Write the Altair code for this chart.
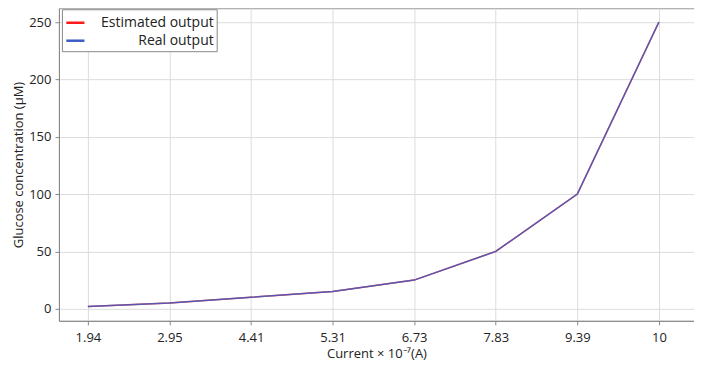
import altair as alt
import pandas as pd

current_labels = ["1.94", "2.95", "4.41", "5.31", "6.73", "7.83", "9.39", "10"]
estimated = [2, 5, 10, 15, 25, 50, 100, 250]
real = [2, 5, 10, 15, 25, 50, 100, 250]
series = ["Estimated output", "Real output"]

rows = []
for s, vals in zip(series, [estimated, real]):
    for i, (lab, v) in enumerate(zip(current_labels, vals)):
        rows.append({"idx": i, "label": lab, "value": v, "series": s, "order": series.index(s)})
df = pd.DataFrame(rows)

label_expr = "[" + ",".join(f"'{l}'" for l in current_labels) + "][datum.value]"

FONT = "Open Sans"

chart = alt.Chart(df).mark_line(strokeWidth=1.5, strokeOpacity=0.85).encode(
    x=alt.X("idx:Q",
            scale=alt.Scale(domain=[-0.355, 7.43], nice=False, zero=False),
            axis=alt.Axis(values=list(range(len(current_labels))), labelExpr=label_expr,
                          title="Current × 10⁻⁷(A)", titlePadding=3, labelPadding=7, grid=True)),
    y=alt.Y("value:Q",
            scale=alt.Scale(domain=[-10.5, 262], nice=False, zero=False),
            axis=alt.Axis(values=[0, 50, 100, 150, 200, 250], title="Glucose concentration (μM)",
                          titlePadding=3, labelPadding=4)),
    color=alt.Color("series:N",
                    scale=alt.Scale(domain=series, range=["#ff1a1a", "#3b5cc4"]),
                    legend=alt.Legend(title=None, orient="none", legendX=3, legendY=1,
                                      symbolType="stroke", symbolStrokeWidth=2.5, symbolSize=330,
                                      symbolOpacity=1,
                                      labelAlign="right", labelOffset=128, labelFontSize=14,
                                      labelFont=FONT, labelColor="#222",
                                      strokeColor="#888", fillColor="white",
                                      padding=3, rowPadding=0)),
    order=alt.Order("order:Q"),
    detail="series:N",
).properties(
    width=636, height=313,
    background="white",
    autosize=alt.AutoSizeParams(type="none"),
    padding={"left": 51, "top": 0, "right": 0, "bottom": 44},
).configure_view(
    stroke="#999", strokeWidth=1
).configure_axis(
    labelFont=FONT, titleFont=FONT, labelFontSize=13, titleFontSize=13,
    labelColor="#222", titleColor="#222", titleFontWeight="normal",
    gridColor="#dcdcdc", gridWidth=1, domainColor="#888", tickColor="#888",
    tickSize=4
)

chart.save("out.html", embed_options={"renderer": "svg", "actions": False})
